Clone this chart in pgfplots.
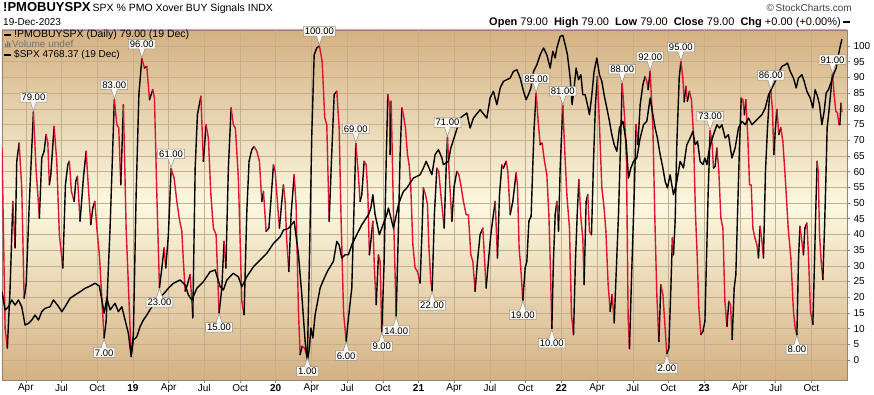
\documentclass[border=0pt]{standalone}
\usepackage{fontspec}
\setmainfont{Liberation Sans}
\usepackage{pgfplots}
\usepackage{pgfplotstable}
\pgfplotsset{compat=1.18}
\usetikzlibrary{shapes.callouts}

\definecolor{tanc}{RGB}{212,177,130}
\definecolor{creamc}{RGB}{251,248,224}
\definecolor{gridc}{RGB}{198,173,140}
\definecolor{yearc}{RGB}{160,148,136}
\definecolor{axisc}{RGB}{150,130,110}
\definecolor{pmored}{RGB}{222,18,50}
\definecolor{labfill}{RGB}{250,248,242}
\definecolor{labdraw}{RGB}{150,140,130}

\pgfplotstableread{
m v
1.00 67.5
1.26 10.2
1.45 3.8
1.68 22.9
1.91 50.5
2.10 35.7
2.24 63.3
2.44 69.1
2.66 54.8
2.86 19.7
3.03 24.0
3.30 50.5
3.64 79
3.87 60.1
3.97 54.8
4.14 45.2
4.34 64.3
4.54 66.5
4.71 71.8
4.85 69.1
4.98 55.8
5.10 59.0
5.38 74.4
5.60 63.3
5.82 39.9
6.11 29.3
6.33 55.8
6.53 62.2
6.66 63.3
6.83 53.7
7.06 50.5
7.20 56.9
7.34 58.5
7.56 44.2
7.84 58.0
8.07 66.5
8.26 54.8
8.46 43.1
8.63 48.4
8.80 50.5
8.97 42.0
9.18 33.5
9.58 7
9.75 12.3
10.08 42.0
10.44 83
10.65 74.9
10.81 73.9
10.98 55.8
11.20 81.3
11.43 42.0
11.85 1.7
12.04 8.1
12.27 52.7
12.50 84.5
12.75 96
12.97 93.0
13.17 93.5
13.39 82.9
13.67 86.1
13.81 83.4
14.01 52.7
14.23 23
14.43 29.3
14.62 35.7
14.76 29.3
14.98 39.9
15.21 61
15.46 58.0
15.69 50.5
15.91 44.7
16.11 41.0
16.24 31.4
16.39 21.9
16.58 24.0
16.81 27.2
17.03 13.4
17.23 61.1
17.42 78.1
17.71 84.0
17.92 63.3
18.15 74.9
18.34 70.7
18.55 52.7
18.76 42.0
18.99 39.9
19.24 15
19.47 22.9
19.66 37.8
19.81 29.3
20.02 61.1
20.25 80.3
20.44 74.9
20.61 73.9
20.86 58.0
21.15 18.7
21.34 14.4
21.57 47.3
21.76 63.3
21.99 67.0
22.18 68.0
22.41 66.5
22.63 63.3
22.83 50.5
22.97 53.7
23.19 41.0
23.42 42.0
23.59 50.5
23.81 62.2
23.95 60.1
24.14 50.5
24.31 42.0
24.51 50.5
24.65 55.8
24.79 50.5
24.93 37.8
25.10 28.2
25.29 46.3
25.55 59.0
25.71 49.5
25.91 15.5
26.05 1.7
26.22 4.4
26.41 3.8
26.66 1
26.83 31.4
27.03 71.8
27.23 97.2
27.45 99.4
27.67 100
27.90 95.1
28.12 77.1
28.29 74.9
28.49 44.2
28.68 63.3
28.91 84.5
29.13 85.6
29.33 74.0
29.49 45.0
29.70 15.0
29.92 6
30.11 13.4
30.39 22.9
30.53 42.0
30.73 69
30.90 61.1
31.09 50.5
31.23 52.7
31.43 63.3
31.60 62.2
31.74 52.7
31.87 33.5
31.99 37.8
32.16 44.2
32.29 29.3
32.44 17.6
32.63 33.5
32.77 31.4
32.91 9
33.11 31.4
33.28 63.3
33.42 84.5
33.55 81.3
33.61 65.4
33.70 82.4
33.89 47.3
34.12 14
34.31 42.0
34.45 65.4
34.60 80.3
34.73 78.1
34.90 73.9
35.07 65.4
35.21 62.2
35.35 54.8
35.52 36.7
35.71 29.3
35.91 28.2
36.13 24.5
36.30 42.0
36.41 54.8
36.58 52.7
36.75 49.5
36.86 36.7
37.03 25.1
37.14 22
37.33 46.3
37.54 61.1
37.70 60.0
37.87 52.7
38.04 46.3
38.15 42.0
38.32 61.1
38.43 71
38.59 58.0
38.80 44.2
38.99 55.3
39.22 60.1
39.39 59.0
39.55 55.8
39.77 50.5
40.00 46.3
40.19 46.2
40.39 33.5
40.56 31.4
40.75 21.9
40.95 31.4
41.17 39.9
41.40 42.0
41.54 32.5
41.68 22.9
41.87 31.4
42.07 39.9
42.29 46.3
42.44 50.5
42.63 32.5
42.80 52.7
43.00 62.1
43.13 61.1
43.36 63.3
43.50 60.1
43.70 46.3
43.92 50.5
44.20 59.6
44.31 55.8
44.45 35.7
44.59 29.3
44.76 19
44.96 29.3
45.10 31.4
45.27 44.2
45.46 45.8
45.60 62.2
45.71 73.9
45.88 85
46.05 76.0
46.22 68.6
46.38 69.1
46.58 63.3
46.78 59.0
46.95 46.3
47.08 29.3
47.20 10
47.33 31.4
47.48 46.3
47.62 50.5
47.76 41.0
47.90 61.1
48.12 81
48.26 68.6
48.46 52.7
48.68 42.0
48.85 14.4
49.02 8.1
49.18 31.4
49.33 46.3
49.47 57.4
49.64 45.2
49.80 38.9
49.91 24.0
50.08 50.5
50.22 52.7
50.36 41.0
50.53 39.9
50.70 63.3
50.86 81.3
51.03 90.3
51.20 74.9
51.40 54.8
51.59 48.4
51.74 41.0
51.93 24.0
52.10 15.5
52.27 20.8
52.44 11.8
52.60 27.2
52.80 46.3
52.97 68.6
53.11 88
53.30 78.1
53.47 63.3
53.61 13.4
53.72 3.6
53.92 29.3
54.12 52.7
54.28 75.0
54.43 68.6
54.62 81.3
54.85 87.7
55.04 90.3
55.18 88.7
55.29 86.1
55.46 92
55.69 73.9
55.86 44.2
56.02 20.8
56.19 5.9
56.36 24.0
56.53 20.8
56.66 13.4
56.86 2
57.03 3.8
57.20 22.9
57.33 38.9
57.42 33.5
57.56 44.2
57.70 68.6
57.90 89.8
58.04 95
58.21 89.8
58.32 82.2
58.46 87.2
58.59 82.4
58.76 85.6
58.93 82.9
59.10 71.8
59.27 46.3
59.41 33.5
59.55 16.6
59.72 8.1
59.89 9.1
60.06 12.3
60.19 31.4
60.33 52.7
60.50 73
60.67 68.6
60.78 61.1
60.92 61.7
61.07 67.5
61.23 60.1
61.40 45.2
61.57 42.0
61.74 18.7
61.91 10.7
62.07 18.7
62.21 17.6
62.35 6.5
62.52 22.9
62.66 27.2
62.80 46.3
62.96 67.5
63.11 83.4
63.25 82.9
63.38 78.1
63.50 82.9
63.67 70.7
63.81 55.8
63.95 55.7
64.09 42.0
64.26 38.9
64.43 36.7
64.56 32.5
64.70 42.6
64.85 37.8
64.98 32.5
65.15 60.1
65.32 74.0
65.49 84.5
65.60 86
65.74 79.2
65.85 65.4
65.99 74.0
66.11 79.8
66.27 71.8
66.44 74.0
66.61 69.6
66.83 56.9
67.06 42.0
67.28 32.5
67.50 15.5
67.64 10.2
67.79 8
67.92 31.4
68.04 42.6
68.17 38.9
68.34 33.5
68.46 42.0
68.63 43.6
68.76 33.5
68.93 15.5
69.13 11.3
69.27 31.4
69.38 48.4
69.49 63.3
69.58 60.1
69.69 39.9
69.83 31.4
69.97 25.6
70.11 42.0
70.22 56.9
70.33 73.9
70.48 79.2
70.64 85.6
70.78 91
70.92 84.5
71.06 79.2
71.20 78.7
71.32 75.0
71.40 74.9
71.49 81.8
71.57 79
}\pmo

\pgfplotstablecreatecol[create col/assign/.code={%
  \getthisrow{v}\cur
  \getnextrow{v}\nxt
  \ifx\nxt\empty
    \def\val{0}%
  \else
    \pgfmathparse{\nxt>\cur?1:0}\let\val\pgfmathresult
  \fi
  \pgfkeyslet{/pgfplots/table/create col/next content}\val
}]{up}{\pmo}

\pgfplotstableread{
m s
1.00 2864
1.26 2727
1.54 2751
1.82 2802
2.10 2764
2.38 2802
2.66 2751
2.94 2613
3.22 2626
3.50 2651
3.78 2689
4.06 2651
4.34 2714
4.62 2739
5.04 2751
5.32 2802
5.66 2764
6.03 2714
6.30 2751
6.72 2815
7.14 2840
7.56 2864
7.98 2890
8.40 2907
8.82 2928
9.18 2907
9.39 2802
9.58 2702
9.81 2815
10.08 2727
10.50 2777
10.78 2714
11.07 2751
11.34 2651
11.62 2551
11.85 2375
12.04 2500
12.33 2525
12.60 2601
12.88 2651
13.17 2689
13.59 2751
14.01 2789
14.29 2827
14.62 2852
14.98 2890
15.40 2928
15.97 2953
16.39 2915
16.66 2840
16.95 2802
17.37 2890
17.92 2940
18.49 3015
18.91 3028
19.33 2902
19.60 2877
19.89 2953
20.44 3003
20.86 2977
21.15 2902
21.57 2977
22.13 3053
22.69 3103
23.25 3154
23.81 3229
24.37 3279
24.65 3329
25.07 3342
25.55 3395
25.91 3143
26.19 2842
26.33 2666
26.47 2491
26.66 2340
26.83 2440
26.95 2591
27.12 2516
27.31 2691
27.73 2892
27.96 2943
28.34 3018
28.85 3094
29.13 3244
29.33 3216
29.55 3118
29.83 3143
30.11 3143
30.39 3219
30.95 3320
31.23 3369
31.79 3445
31.99 3495
32.16 3595
32.35 3445
32.71 3294
32.91 3344
33.33 3445
33.47 3495
33.89 3344
34.31 3520
34.51 3571
34.73 3621
35.01 3646
35.29 3684
35.57 3721
36.13 3746
36.41 3797
36.64 3847
37.12 3746
37.39 3897
37.67 3935
37.96 3872
38.09 3822
38.51 3847
38.71 3947
39.16 4073
39.49 4173
40.06 4211
40.33 4098
40.61 4173
41.17 4236
41.74 4173
42.01 4324
42.29 4375
42.58 4274
42.86 4400
43.13 4450
43.70 4475
43.97 4525
44.26 4537
44.54 4475
44.82 4375
45.04 4311
45.23 4349
45.44 4400
45.66 4525
45.94 4575
46.22 4650
46.50 4701
46.78 4650
47.06 4550
47.28 4676
47.48 4626
47.62 4701
47.90 4789
48.12 4797
48.32 4726
48.51 4650
48.74 4475
48.90 4274
49.07 4400
49.24 4550
49.44 4462
49.64 4500
49.80 4349
50.00 4349
50.19 4274
50.36 4198
50.56 4349
50.75 4525
50.98 4626
51.20 4500
51.40 4450
51.59 4349
51.82 4249
52.04 4149
52.24 4048
52.44 3972
52.66 3923
52.88 4098
53.17 4149
53.44 3998
53.64 3721
53.84 3797
54.06 3847
54.34 3872
54.62 4023
54.90 4123
55.18 4149
55.46 4324
55.69 4198
55.88 4098
56.07 4023
56.30 3897
56.53 3797
56.72 3696
56.91 3646
57.14 3746
57.42 3595
57.70 3696
57.98 3847
58.26 3797
58.54 3972
58.82 4023
59.05 4073
59.24 3972
59.44 3998
59.66 3847
59.89 3822
60.06 3872
60.23 3822
60.44 3947
60.78 4048
61.07 4123
61.28 4098
61.49 4123
61.76 4023
62.04 4048
62.33 3872
62.60 3947
62.88 4098
63.17 4149
63.45 4123
63.73 4173
64.01 4123
64.29 4149
64.56 4173
64.85 4198
65.13 4249
65.41 4349
65.69 4400
65.97 4450
66.24 4513
66.53 4563
66.81 4575
67.00 4588
67.23 4525
67.50 4475
67.73 4400
67.92 4475
68.21 4500
68.40 4450
68.63 4375
68.91 4324
69.13 4249
69.32 4387
69.52 4337
69.69 4274
69.89 4123
70.08 4224
70.25 4362
70.44 4387
70.64 4437
70.86 4500
71.09 4550
71.28 4650
71.43 4714
71.57 4768
}\spx

\pgfplotstableread{
m v
3.64 79
10.44 83
12.75 96
15.21 61
27.67 100
30.73 69
38.43 71
45.88 85
48.12 81
53.11 88
55.46 92
58.04 95
60.50 73
65.60 86
70.78 91
}\peaks

\pgfplotstableread{
m v
9.58 7
14.23 23
19.24 15
26.66 1
29.92 6
32.91 9
34.12 14
37.14 22
44.76 19
47.20 10
56.86 2
67.79 8
}\troughs

\tikzset{
  lab/.style={fill=labfill, draw=labdraw, line width=0.5pt, inner xsep=1.5pt,
    inner ysep=1.3pt, text height=6.9pt, text depth=0pt,
    font=\fontsize{9.5}{9.5}\selectfont, text=black, callout pointer width=6pt},
  peaklab/.style={lab, rectangle callout, callout relative pointer={(0pt,-9pt)}, anchor=pointer},
  troughlab/.style={lab, rectangle callout, callout relative pointer={(0pt,9pt)}, anchor=pointer},
}

\begin{document}
\begin{tikzpicture}[x=1pt,y=1pt]
\useasboundingbox (0,0) rectangle (874,395);
\fill[white] (0,0) rectangle (874,395);

\begin{axis}[
  at={(2pt,15pt)}, anchor=south west, scale only axis,
  width=845pt, height=350pt,
  xmin=1, xmax=72, ymin=-6.37, ymax=105.1,
  axis background/.style={shade, top color=tanc, bottom color=tanc, middle color=creamc},
  xtick={3,6,9,15,18,21,27,30,33,39,42,45,51,54,57,63,66,69},
  xticklabels={Apr,Jul,Oct,Apr,Jul,Oct,Apr,Jul,Oct,Apr,Jul,Oct,Apr,Jul,Oct,Apr,Jul,Oct},
  extra x ticks={12,24,36,48,60},
  extra x tick labels={\textbf{19},\textbf{20},\textbf{21},\textbf{22},\textbf{23}},
  extra x tick style={grid style={yearc, line width=0.6pt}},
  ytick={0,5,...,100},
  xtick pos=left, ytick pos=right, yticklabel pos=right,
  grid=major,
  major grid style={gridc, line width=0.5pt},
  tick style={axisc, line width=0.5pt},
  tick align=outside, major tick length=3pt,
  axis line style={axisc, line width=0.8pt},
  tick label style={font=\fontsize{10}{10}\selectfont},
  xticklabel style={yshift=2.5pt},
  /pgf/number format/assume math mode=true,
  colormap={updown}{color=(pmored) color=(black)},
  point meta min=0, point meta max=1,
]
\addplot[mesh, shader=flat corner, point meta=\thisrow{up}, line width=1.4pt, line cap=round]
  table[x=m, y=v] {\pmo};
\end{axis}

\begin{axis}[
  at={(2pt,15pt)}, anchor=south west, scale only axis,
  width=845pt, height=350pt,
  xmin=1, xmax=72, ymin=2199, ymax=4837, hide axis,
]
\addplot[black, line width=1.4pt, line join=round] table[x=m, y=s] {\spx};
\end{axis}

\begin{axis}[
  at={(2pt,15pt)}, anchor=south west, scale only axis,
  width=845pt, height=350pt,
  xmin=1, xmax=72, ymin=-6.37, ymax=105.1, hide axis, clip=false,
  /pgf/number format/assume math mode=true,
]
\addplot[draw=none, mark=none, point meta=y,
  nodes near coords={\pgfmathprintnumber[fixed,fixed zerofill,precision=2]{\pgfplotspointmeta}},
  every node near coord/.style={peaklab}] table[x=m, y=v] {\peaks};
\addplot[draw=none, mark=none, point meta=y,
  nodes near coords={\pgfmathprintnumber[fixed,fixed zerofill,precision=2]{\pgfplotspointmeta}},
  every node near coord/.style={troughlab}] table[x=m, y=v] {\troughs};
\end{axis}

% header
\node[anchor=base west, inner sep=0] at (3,383)
  {\fontsize{13}{13}\selectfont\bfseries !PMOBUYSPX\hspace{2pt}\fontsize{10.5}{10.5}\mdseries SPX \% PMO Xover BUY Signals\hspace{3pt}INDX};
\node[anchor=base east, inner sep=0, text=black!75] at (852,383)
  {\fontsize{10}{10}\selectfont \copyright\,StockCharts.com};
\node[anchor=base west, inner sep=0] at (3,369)
  {\fontsize{10}{10}\selectfont 19-Dec-2023};
\node[anchor=base east, inner sep=0] at (841,369)
  {\fontsize{11}{11}\selectfont \textbf{Open} 79.00 \ \textbf{High} 79.00 \ \textbf{Low} 79.00 \ \textbf{Close} 79.00 \ \textbf{Chg} +0.00 (+0.00\%)};
\fill[black] (843,372.3) rectangle (850,374.3);

% legend in plot
\fill[black] (4,359.3) rectangle (11,361.3);
\node[anchor=base west, inner sep=0] at (14,357)
  {\fontsize{10.5}{10.5}\selectfont !PMOBUYSPX (Daily) 79.00 (19 Dec)};
\fill[black!55] (5,347.5) rectangle (6.3,351) (7,347.5) rectangle (8.3,353.5) (9,347.5) rectangle (10.3,352);
\node[anchor=base west, inner sep=0, text=black!55] at (12,347.5)
  {\fontsize{10}{10}\selectfont Volume undef};
\fill[black] (4,339.3) rectangle (11,341.3);
\node[anchor=base west, inner sep=0] at (14,337)
  {\fontsize{10}{10}\selectfont \$SPX 4768.37 (19 Dec)};
\end{tikzpicture}
\end{document}
